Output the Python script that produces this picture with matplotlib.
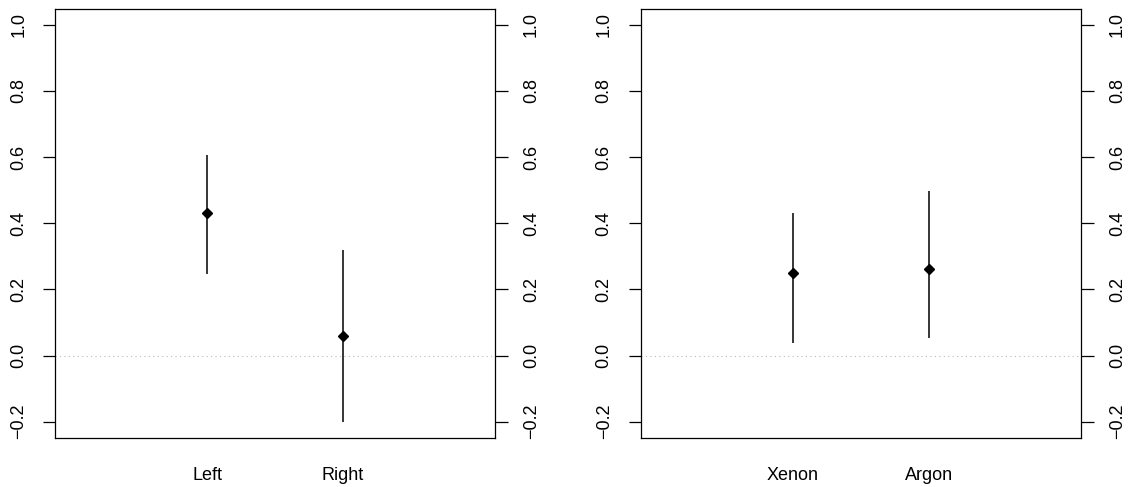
import matplotlib.pyplot as plt

plt.rcParams['font.family'] = ['Liberation Sans', 'DejaVu Sans']

# panel 1
labels1 = ["Left", "Right"]
est1 = [0.431, 0.058]
lo1 = [0.248, -0.200]
hi1 = [0.606, 0.320]

# panel 2
labels2 = ["Xenon", "Argon"]
est2 = [0.251, 0.261]
lo2 = [0.038, 0.052]
hi2 = [0.430, 0.497]

yticks = [-0.2, 0.0, 0.2, 0.4, 0.6, 0.8, 1.0]

fig = plt.figure(figsize=(11.34, 4.87), dpi=100)
ax1 = fig.add_axes([55 / 1134, 1 - 437.5 / 487, 440 / 1134, 428.5 / 487])
ax2 = fig.add_axes([640.5 / 1134, 1 - 437.5 / 487, 440.5 / 1134, 428.5 / 487])


def panel(ax, labels, est, lo, hi):
    x = list(range(1, len(labels) + 1))
    ax.axhline(0, color="#bbbbbb", lw=0.8, ls=(0, (1, 3)))
    ax.vlines(x, lo, hi, color="black", lw=1.1)
    ax.plot(x, est, "D", color="black", ms=5)
    ax.set_xlim(-0.12, 3.12)
    ax.set_ylim(-0.248, 1.048)
    ax.set_xticks(x)
    ax.set_xticklabels(labels, fontsize=13)
    ax.tick_params(axis="x", length=0, pad=21)
    ax.set_yticks(yticks)
    ax.set_yticklabels([f"{v:.1f}".replace("-", "\u2212") for v in yticks],
                       rotation=90, va="center", fontsize=13)
    ax.tick_params(axis="y", left=True, right=True, labelleft=True,
                   labelright=True, length=9, width=0.9, pad=11)
    for s in ax.spines.values():
        s.set_linewidth(0.9)


panel(ax1, labels1, est1, lo1, hi1)
panel(ax2, labels2, est2, lo2, hi2)

fig.savefig("out.png", dpi=100)
